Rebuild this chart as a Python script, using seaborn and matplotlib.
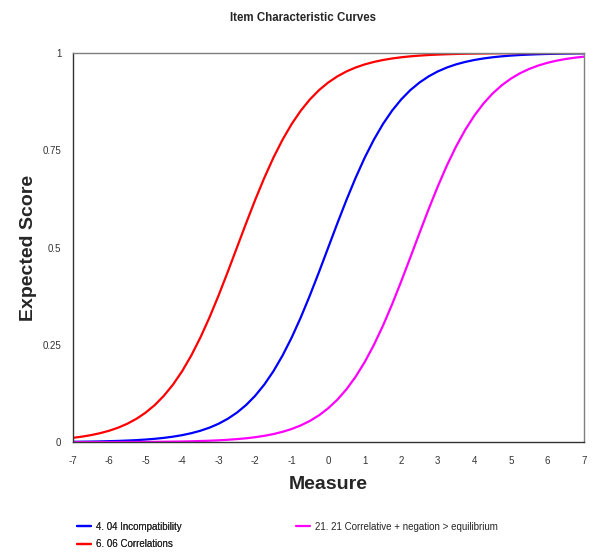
import matplotlib
matplotlib.use("Agg")
import matplotlib.pyplot as plt
import pandas as pd
import seaborn as sns

# measure grid (every quarter logit)
measure = [-7.0, -6.75, -6.5, -6.25, -6.0, -5.75, -5.5, -5.25, -5.0, -4.75,
           -4.5, -4.25, -4.0, -3.75, -3.5, -3.25, -3.0, -2.75, -2.5, -2.25,
           -2.0, -1.75, -1.5, -1.25, -1.0, -0.75, -0.5, -0.25, 0.0, 0.25,
           0.5, 0.75, 1.0, 1.25, 1.5, 1.75, 2.0, 2.25, 2.5, 2.75,
           3.0, 3.25, 3.5, 3.75, 4.0, 4.25, 4.5, 4.75, 5.0, 5.25,
           5.5, 5.75, 6.0, 6.25, 6.5, 6.75, 7.0]

incompatibility = [0.0009, 0.0012, 0.0015, 0.0019, 0.0025, 0.0032, 0.0041, 0.0052, 0.0067, 0.0086,
                   0.0110, 0.0141, 0.0180, 0.0230, 0.0293, 0.0373, 0.0474, 0.0601, 0.0759, 0.0953,
                   0.1192, 0.1480, 0.1824, 0.2227, 0.2689, 0.3208, 0.3775, 0.4378, 0.5000, 0.5622,
                   0.6225, 0.6792, 0.7311, 0.7773, 0.8176, 0.8520, 0.8808, 0.9047, 0.9241, 0.9399,
                   0.9526, 0.9627, 0.9707, 0.9770, 0.9820, 0.9859, 0.9890, 0.9914, 0.9933, 0.9948,
                   0.9959, 0.9968, 0.9975, 0.9981, 0.9985, 0.9988, 0.9991]
correlations = [0.0110, 0.0141, 0.0180, 0.0230, 0.0293, 0.0373, 0.0474, 0.0601, 0.0759, 0.0953,
                0.1192, 0.1480, 0.1824, 0.2227, 0.2689, 0.3208, 0.3775, 0.4378, 0.5000, 0.5622,
                0.6225, 0.6792, 0.7311, 0.7773, 0.8176, 0.8520, 0.8808, 0.9047, 0.9241, 0.9399,
                0.9526, 0.9627, 0.9707, 0.9770, 0.9820, 0.9859, 0.9890, 0.9914, 0.9933, 0.9948,
                0.9959, 0.9968, 0.9975, 0.9981, 0.9985, 0.9988, 0.9991, 0.9993, 0.9994, 0.9996,
                0.9997, 0.9997, 0.9998, 0.9998, 0.9999, 0.9999, 0.9999]
equilibrium = [0.0001, 0.0001, 0.0001, 0.0002, 0.0002, 0.0003, 0.0004, 0.0005, 0.0006, 0.0008,
               0.0011, 0.0014, 0.0017, 0.0022, 0.0029, 0.0037, 0.0047, 0.0061, 0.0078, 0.0099,
               0.0127, 0.0163, 0.0208, 0.0266, 0.0339, 0.0431, 0.0547, 0.0691, 0.0871, 0.1091,
               0.1359, 0.1680, 0.2059, 0.2497, 0.2994, 0.3543, 0.4134, 0.4750, 0.5374, 0.5987,
               0.6570, 0.7109, 0.7595, 0.8022, 0.8389, 0.8699, 0.8957, 0.9168, 0.9340, 0.9478,
               0.9589, 0.9677, 0.9747, 0.9802, 0.9845, 0.9879, 0.9905]

items = ["4. 04 Incompatibility", "6. 06 Correlations", "21. 21 Correlative + negation > equilibrium"]
colors = ["#0000FF", "#FF0000", "#FF00FF"]
x_ticks = list(range(-7, 8))
y_ticks = [0, 0.25, 0.5, 0.75, 1]
y_tick_labels = ["0", "0.25", "0.5", "0.75", "1"]


def main():
    sns.set_style("white")
    plt.rcParams["font.family"] = ["Liberation Sans", "DejaVu Sans"]

    df = pd.concat([
        pd.DataFrame({"Measure": measure, "Score": incompatibility, "Item": items[0]}),
        pd.DataFrame({"Measure": measure, "Score": correlations, "Item": items[1]}),
        pd.DataFrame({"Measure": measure, "Score": equilibrium, "Item": items[2]}),
    ])

    fig = plt.figure(figsize=(6.05, 5.52), dpi=100)
    ax = fig.add_axes([0.120, 0.199, 0.845, 0.705])
    sns.lineplot(data=df, x="Measure", y="Score", hue="Item", hue_order=items,
                 palette=colors, linewidth=1.6, ax=ax, legend=False, sort=False)

    ax.set_xlim(-7, 7)
    ax.set_ylim(0, 1)
    ax.set_xticks(x_ticks)
    ax.set_xticklabels([str(t) for t in x_ticks])
    ax.set_yticks(y_ticks)
    ax.set_yticklabels(y_tick_labels)
    ax.tick_params(axis="both", direction="out", length=4, width=0.8, color="#333333",
                   labelsize=7, labelcolor="#333333", pad=6)
    ax.tick_params(axis="y", pad=4)
    for side in ["left", "bottom"]:
        ax.spines[side].set_color("#333333")
        ax.spines[side].set_linewidth(1.0)
    for side in ["top", "right"]:
        ax.spines[side].set_color("#7f7f7f")
        ax.spines[side].set_linewidth(1.0)

    ax.set_xlabel("Measure", fontsize=14, fontweight="bold", labelpad=7)
    ax.set_ylabel("Expected Score", fontsize=14, fontweight="bold", labelpad=4)
    fig.suptitle("Item Characteristic Curves", fontsize=8.3, fontweight="bold", x=0.5, y=0.978)

    lines = ax.get_lines()
    leg1 = fig.legend([lines[0], lines[1]], items[:2], loc="upper left",
                      bbox_to_anchor=(0.128, 0.055), frameon=False, fontsize=7,
                      handlelength=1.4, handletextpad=0.5, labelspacing=0.75,
                      borderaxespad=0, borderpad=0)
    fig.add_artist(leg1)
    fig.legend([lines[2]], items[2:], loc="upper left",
               bbox_to_anchor=(0.49, 0.055), frameon=False, fontsize=7,
               handlelength=1.4, handletextpad=0.5, borderaxespad=0, borderpad=0)

    fig.savefig("out.png", dpi=100)


if __name__ == "__main__":
    main()
